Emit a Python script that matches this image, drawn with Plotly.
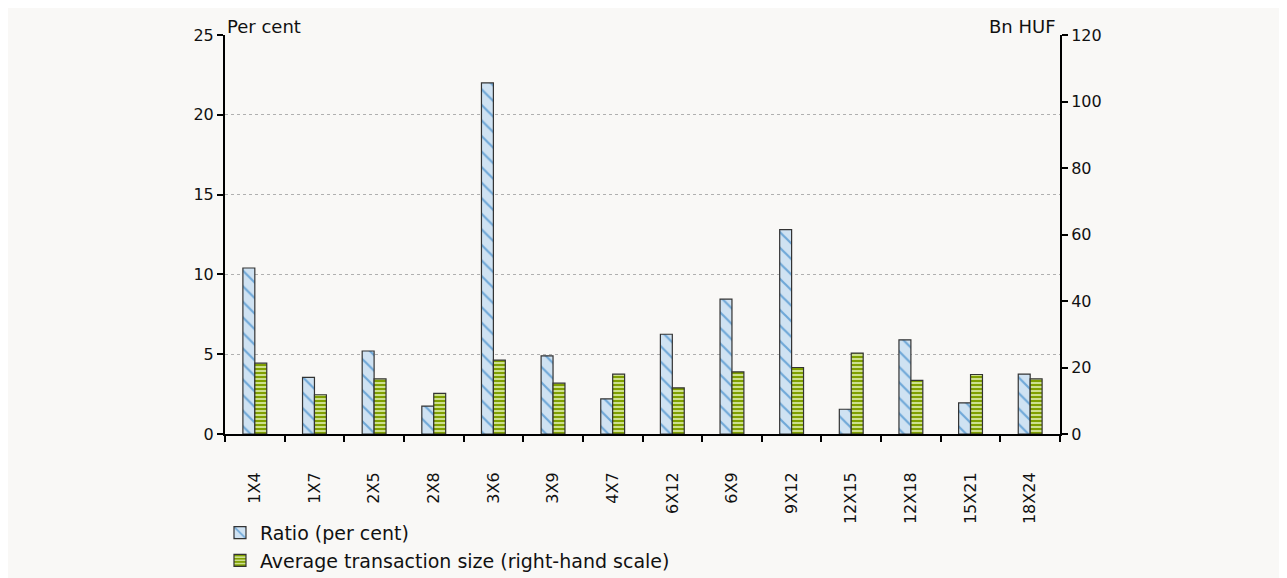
import plotly.graph_objects as go

categories = ["1X4", "1X7", "2X5", "2X8", "3X6", "3X9", "4X7", "6X12", "6X9", "9X12",
              "12X15", "12X18", "15X21", "18X24"]
ratio = [10.4, 3.55, 5.2, 1.75, 22.0, 4.9, 2.2, 6.25, 8.45, 12.8, 1.55, 5.9, 1.95, 3.75]
avg_size = [21.3, 11.8, 16.6, 12.2, 22.2, 15.3, 18.0, 13.9, 18.7, 20.0, 24.3, 16.1, 17.9, 16.6]

left_ticks = [0, 5, 10, 15, 20, 25]
right_ticks = [0, 20, 40, 60, 80, 100, 120]

FONT = "DejaVu Sans"
BG = "#f9f8f6"
FS_TICK = 16
FS_TEXT = 18
FS_LEGEND = 19

fig = go.Figure()
fig.add_trace(go.Bar(
    x=categories, y=ratio, name="Ratio (per cent)", yaxis="y", offsetgroup="1",
    marker=dict(color="#cfe2f2", line=dict(color="#333333", width=1.2),
                pattern=dict(shape="\\", fgcolor="#6fa8d8", bgcolor="#cfe2f2",
                             size=11, solidity=0.2, fillmode="replace")),
))
fig.add_trace(go.Bar(
    x=categories, y=avg_size, name="Average transaction size (right-hand scale)",
    yaxis="y2", offsetgroup="2",
    marker=dict(color="#cde08f", line=dict(color="#333333", width=1.2),
                pattern=dict(shape="-", fgcolor="#7f9f00", bgcolor="#cde08f",
                             size=4, solidity=0.5, fillmode="replace")),
))

fig.update_layout(
    width=1279, height=570,
    paper_bgcolor=BG, plot_bgcolor=BG,
    margin=dict(l=217, r=227, t=27, b=143.5, autoexpand=False),
    barmode="group", bargap=0.6, bargroupgap=0,
    font=dict(family=FONT, size=FS_TICK, color="#111111"),
    showlegend=True,
    legend=dict(x=-0.006, y=-0.2, xanchor="left", yanchor="top",
                bgcolor="rgba(0,0,0,0)", font=dict(size=FS_LEGEND),
                itemwidth=30, tracegroupgap=0, traceorder="normal"),
    xaxis=dict(type="category", tickangle=-90, ticks="outside", tickson="boundaries",
               ticklen=6, tickwidth=2, tickcolor="#000", showline=True, linecolor="#000",
               linewidth=2, showgrid=False, tickfont=dict(size=FS_TICK),
               ticklabelstandoff=30, zeroline=False),
    yaxis=dict(range=[0, 25], tickvals=left_ticks, ticks="outside", ticklen=6,
               tickwidth=2, tickcolor="#000", showline=True, linecolor="#000", linewidth=2,
               showgrid=True, gridcolor="#b0b0b0", griddash="dot", gridwidth=1,
               zeroline=False, tickfont=dict(size=FS_TICK), ticklabelstandoff=0),
    yaxis2=dict(range=[0, 120], tickvals=right_ticks, overlaying="y", side="right",
                ticks="outside", ticklen=6, tickwidth=2, tickcolor="#000", showline=True,
                linecolor="#000", linewidth=2, showgrid=False, zeroline=False,
                tickfont=dict(size=FS_TICK), ticklabelstandoff=0),
    annotations=[
        dict(text="Per cent", xref="paper", yref="paper", x=0.0, y=1.0,
             xanchor="left", yanchor="bottom", showarrow=False, font=dict(size=FS_TEXT),
             yshift=-4),
        dict(text="Bn HUF", xref="paper", yref="paper", x=1.0, y=1.0,
             xanchor="right", yanchor="bottom", showarrow=False, font=dict(size=FS_TEXT),
             yshift=-4, xshift=-2),
    ],
)

fig.write_html("out.html")
